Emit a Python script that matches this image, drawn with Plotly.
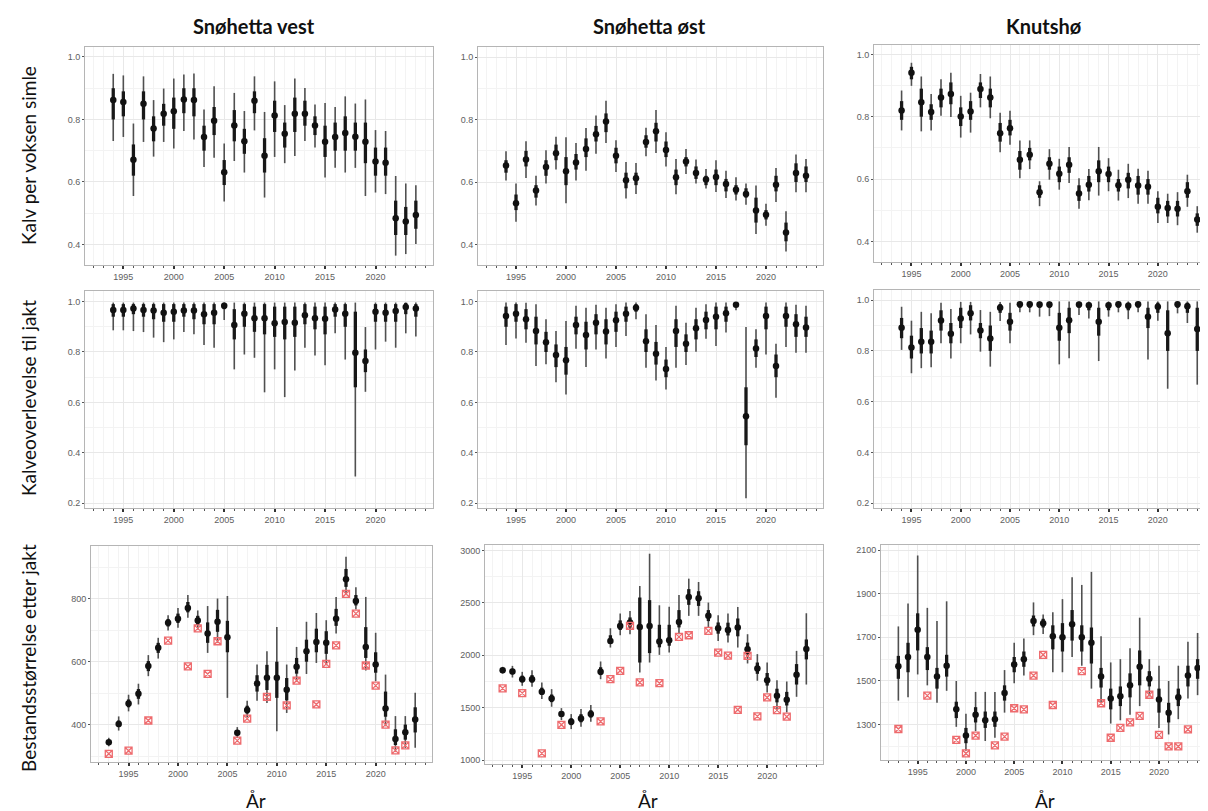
import plotly.graph_objects as go

W, H = 1208, 811

years94 = list(range(1994, 2025))
years93 = list(range(1993, 2025))
x_tick_years = [1995, 2000, 2005, 2010, 2015, 2020]

col_titles = ["Snøhetta vest", "Snøhetta øst", "Knutshø"]
row_titles = ["Kalv per voksen simle", "Kalveoverlevelse til jakt", "Bestandsstørrelse etter jakt"]
x_title = "År"

# ---------------- Row 1: Kalv per voksen simle ----------------
sv_kalv_est = [0.862, 0.856, 0.671, 0.850, 0.771, 0.818, 0.826, 0.864, 0.862, 0.744, 0.796, 0.631, 0.781, 0.730, 0.860, 0.684,
               0.813, 0.754, 0.818, 0.818, 0.781, 0.729, 0.744, 0.757, 0.745, 0.729, 0.665, 0.661, 0.484, 0.473, 0.494]
sv_kalv_lo95 = [0.731, 0.744, 0.555, 0.728, 0.681, 0.728, 0.707, 0.763, 0.736, 0.648, 0.677, 0.537, 0.667, 0.630, 0.765, 0.550,
                0.680, 0.660, 0.683, 0.731, 0.710, 0.614, 0.645, 0.630, 0.645, 0.555, 0.566, 0.561, 0.364, 0.369, 0.401]
sv_kalv_hi95 = [0.946, 0.941, 0.787, 0.938, 0.862, 0.899, 0.931, 0.944, 0.947, 0.832, 0.906, 0.723, 0.885, 0.827, 0.938, 0.824,
                0.922, 0.846, 0.931, 0.901, 0.848, 0.853, 0.840, 0.874, 0.851, 0.864, 0.766, 0.763, 0.619, 0.595, 0.589]
sv_kalv_lo66 = [0.80, 0.81, 0.62, 0.80, 0.73, 0.78, 0.77, 0.82, 0.81, 0.70, 0.75, 0.59, 0.73, 0.69, 0.82, 0.63,
                0.76, 0.71, 0.76, 0.78, 0.75, 0.68, 0.70, 0.70, 0.70, 0.66, 0.62, 0.62, 0.43, 0.43, 0.45]
sv_kalv_hi66 = [0.90, 0.89, 0.72, 0.89, 0.81, 0.85, 0.87, 0.90, 0.90, 0.78, 0.84, 0.67, 0.83, 0.77, 0.89, 0.74,
                0.86, 0.79, 0.87, 0.86, 0.81, 0.78, 0.79, 0.81, 0.79, 0.79, 0.71, 0.71, 0.54, 0.52, 0.54]

so_kalv_est = [0.653, 0.532, 0.672, 0.573, 0.648, 0.692, 0.635, 0.663, 0.706, 0.753, 0.794, 0.684, 0.606, 0.612, 0.728, 0.763,
               0.703, 0.615, 0.666, 0.629, 0.608, 0.616, 0.594, 0.575, 0.562, 0.509, 0.495, 0.591, 0.438, 0.629, 0.620]
so_kalv_lo95 = [0.605, 0.473, 0.613, 0.525, 0.595, 0.640, 0.532, 0.605, 0.636, 0.691, 0.725, 0.632, 0.547, 0.562, 0.683, 0.693,
                0.650, 0.561, 0.626, 0.595, 0.579, 0.568, 0.549, 0.541, 0.527, 0.433, 0.460, 0.536, 0.377, 0.567, 0.567]
so_kalv_hi95 = [0.699, 0.595, 0.731, 0.620, 0.702, 0.745, 0.744, 0.725, 0.773, 0.813, 0.861, 0.734, 0.664, 0.661, 0.774, 0.831,
                0.760, 0.674, 0.706, 0.672, 0.642, 0.670, 0.636, 0.615, 0.595, 0.589, 0.530, 0.645, 0.506, 0.688, 0.674]
so_kalv_lo66 = [0.63, 0.51, 0.65, 0.55, 0.62, 0.67, 0.59, 0.64, 0.68, 0.73, 0.76, 0.66, 0.58, 0.59, 0.71, 0.73,
                0.68, 0.59, 0.65, 0.61, 0.59, 0.59, 0.57, 0.56, 0.55, 0.47, 0.48, 0.57, 0.41, 0.60, 0.60]
so_kalv_hi66 = [0.67, 0.56, 0.70, 0.59, 0.67, 0.72, 0.68, 0.69, 0.74, 0.78, 0.82, 0.71, 0.63, 0.63, 0.75, 0.79,
                0.73, 0.64, 0.68, 0.65, 0.62, 0.64, 0.61, 0.59, 0.58, 0.55, 0.51, 0.62, 0.47, 0.66, 0.65]

kn_kalv_est = [0.820, 0.941, 0.846, 0.815, 0.862, 0.873, 0.801, 0.817, 0.889, 0.862, 0.747, 0.763, 0.662, 0.678, 0.558, 0.649,
               0.617, 0.646, 0.554, 0.582, 0.625, 0.616, 0.580, 0.598, 0.579, 0.575, 0.511, 0.507, 0.505, 0.561, 0.470]
kn_kalv_lo95 = [0.756, 0.899, 0.753, 0.756, 0.803, 0.799, 0.733, 0.749, 0.830, 0.795, 0.686, 0.710, 0.603, 0.632, 0.513, 0.598,
                0.566, 0.587, 0.505, 0.532, 0.547, 0.561, 0.531, 0.539, 0.521, 0.521, 0.459, 0.459, 0.452, 0.511, 0.428]
kn_kalv_hi95 = [0.884, 0.973, 0.929, 0.873, 0.920, 0.941, 0.867, 0.877, 0.937, 0.929, 0.813, 0.819, 0.724, 0.724, 0.593, 0.696,
                0.665, 0.703, 0.603, 0.632, 0.703, 0.667, 0.630, 0.649, 0.633, 0.627, 0.561, 0.553, 0.558, 0.614, 0.513]
kn_kalv_lo66 = [0.79, 0.92, 0.80, 0.79, 0.83, 0.84, 0.77, 0.79, 0.86, 0.83, 0.72, 0.74, 0.63, 0.66, 0.54, 0.63,
                0.59, 0.62, 0.53, 0.56, 0.59, 0.59, 0.56, 0.57, 0.55, 0.55, 0.49, 0.48, 0.48, 0.54, 0.45]
kn_kalv_hi66 = [0.85, 0.96, 0.89, 0.84, 0.89, 0.91, 0.83, 0.85, 0.91, 0.89, 0.78, 0.79, 0.69, 0.70, 0.58, 0.67,
                0.64, 0.67, 0.58, 0.61, 0.66, 0.64, 0.60, 0.62, 0.61, 0.60, 0.54, 0.53, 0.53, 0.59, 0.49]

# ---------------- Row 2: Kalveoverlevelse til jakt ----------------
sv_surv_est = [0.967, 0.967, 0.973, 0.967, 0.965, 0.956, 0.960, 0.965, 0.965, 0.950, 0.956, 0.983, 0.907, 0.952, 0.934, 0.934,
               0.914, 0.919, 0.916, 0.946, 0.934, 0.932, 0.969, 0.952, 0.797, 0.764, 0.960, 0.956, 0.963, 0.979, 0.973]
sv_surv_lo95 = [0.886, 0.886, 0.883, 0.879, 0.857, 0.839, 0.850, 0.879, 0.870, 0.828, 0.817, 0.927, 0.731, 0.790, 0.777, 0.640,
                0.731, 0.621, 0.727, 0.817, 0.786, 0.747, 0.874, 0.770, 0.306, 0.642, 0.810, 0.841, 0.817, 0.874, 0.861]
sv_surv_hi95 = [0.996, 0.996, 0.996, 0.996, 0.996, 0.996, 0.996, 0.996, 0.996, 0.996, 0.996, 0.996, 0.996, 0.996, 0.996, 0.996,
                0.996, 0.996, 0.996, 0.996, 0.996, 0.996, 0.996, 0.996, 0.996, 0.899, 0.996, 0.996, 0.996, 0.996, 0.996]
sv_surv_lo66 = [0.94, 0.94, 0.95, 0.94, 0.93, 0.92, 0.92, 0.94, 0.93, 0.91, 0.91, 0.97, 0.85, 0.90, 0.88, 0.87,
                0.86, 0.85, 0.86, 0.91, 0.89, 0.87, 0.94, 0.90, 0.66, 0.72, 0.92, 0.92, 0.92, 0.95, 0.94]
sv_surv_hi66 = [0.99, 0.99, 0.99, 0.99, 0.99, 0.99, 0.99, 0.99, 0.99, 0.99, 0.99, 0.995, 0.97, 0.99, 0.98, 0.99,
                0.98, 0.98, 0.98, 0.99, 0.98, 0.98, 0.99, 0.99, 0.96, 0.81, 0.99, 0.99, 0.99, 0.995, 0.99]

so_surv_est = [0.943, 0.952, 0.930, 0.883, 0.839, 0.788, 0.767, 0.907, 0.867, 0.916, 0.881, 0.926, 0.952, 0.976, 0.843, 0.793,
               0.733, 0.883, 0.833, 0.894, 0.927, 0.940, 0.954, 0.987, 0.545, 0.814, 0.943, 0.744, 0.943, 0.910, 0.897]
so_surv_lo95 = [0.828, 0.854, 0.837, 0.744, 0.751, 0.680, 0.631, 0.813, 0.740, 0.810, 0.774, 0.820, 0.863, 0.930, 0.737, 0.687,
                0.651, 0.737, 0.748, 0.801, 0.853, 0.824, 0.877, 0.966, 0.220, 0.737, 0.790, 0.618, 0.820, 0.797, 0.797]
so_surv_hi95 = [0.996, 0.996, 0.995, 0.989, 0.930, 0.883, 0.923, 0.983, 0.976, 0.987, 0.976, 0.989, 0.996, 0.996, 0.950, 0.907,
                0.820, 0.983, 0.916, 0.976, 0.989, 0.996, 0.996, 0.996, 0.899, 0.890, 0.996, 0.833, 0.996, 0.987, 0.983]
so_surv_lo66 = [0.90, 0.92, 0.89, 0.83, 0.80, 0.74, 0.71, 0.87, 0.81, 0.87, 0.83, 0.88, 0.92, 0.96, 0.80, 0.75,
                0.70, 0.82, 0.80, 0.85, 0.89, 0.89, 0.92, 0.98, 0.43, 0.78, 0.89, 0.70, 0.90, 0.86, 0.86]
so_surv_hi66 = [0.98, 0.99, 0.97, 0.94, 0.88, 0.83, 0.82, 0.94, 0.92, 0.95, 0.93, 0.96, 0.98, 0.99, 0.89, 0.84,
                0.77, 0.93, 0.87, 0.93, 0.96, 0.98, 0.98, 0.993, 0.66, 0.85, 0.98, 0.79, 0.98, 0.95, 0.94]

kn_surv_est = [0.891, 0.813, 0.836, 0.836, 0.920, 0.868, 0.928, 0.948, 0.880, 0.849, 0.970, 0.915, 0.984, 0.984, 0.983, 0.983,
               0.891, 0.921, 0.983, 0.980, 0.915, 0.980, 0.984, 0.978, 0.984, 0.935, 0.974, 0.870, 0.984, 0.976, 0.886]
kn_surv_lo95 = [0.804, 0.712, 0.732, 0.736, 0.830, 0.770, 0.830, 0.865, 0.797, 0.738, 0.918, 0.830, 0.952, 0.952, 0.935, 0.937,
                0.747, 0.771, 0.941, 0.928, 0.760, 0.935, 0.952, 0.925, 0.952, 0.766, 0.919, 0.651, 0.948, 0.910, 0.667]
kn_surv_hi95 = [0.974, 0.919, 0.954, 0.948, 0.990, 0.965, 0.993, 0.993, 0.961, 0.954, 0.993, 0.990, 0.995, 0.995, 0.995, 0.995,
                0.995, 0.995, 0.995, 0.995, 0.995, 0.995, 0.995, 0.995, 0.995, 0.995, 0.995, 0.995, 0.995, 0.995, 0.995]
kn_surv_lo66 = [0.85, 0.77, 0.79, 0.79, 0.88, 0.83, 0.89, 0.92, 0.85, 0.80, 0.95, 0.88, 0.97, 0.97, 0.97, 0.97,
                0.84, 0.87, 0.97, 0.96, 0.86, 0.96, 0.97, 0.96, 0.97, 0.89, 0.95, 0.80, 0.97, 0.95, 0.80]
kn_surv_hi66 = [0.93, 0.86, 0.89, 0.88, 0.96, 0.91, 0.97, 0.98, 0.91, 0.90, 0.985, 0.95, 0.992, 0.992, 0.992, 0.992,
                0.95, 0.97, 0.992, 0.99, 0.97, 0.99, 0.992, 0.99, 0.992, 0.97, 0.99, 0.96, 0.992, 0.99, 0.97]

# ---------------- Row 3: Bestandsstørrelse etter jakt ----------------
sv_pop_est = [344, 402, 467, 498, 586, 644, 724, 737, 771, 731, 690, 727, 678, 374, 446, 531,
              549, 549, 511, 584, 633, 663, 660, 737, 862, 793, 647, 591, 451, 354, 376, 416]
sv_pop_lo95 = [331, 381, 442, 464, 554, 610, 699, 708, 740, 702, 628, 660, 485, 358, 423, 476,
               469, 379, 437, 538, 561, 596, 589, 690, 814, 766, 572, 538, 395, 315, 326, 326]
sv_pop_hi95 = [358, 426, 495, 530, 621, 676, 748, 771, 812, 763, 777, 801, 809, 392, 476, 591,
               633, 710, 591, 647, 727, 755, 732, 806, 934, 837, 806, 692, 559, 427, 427, 501]
sv_pop_lo66 = [338, 392, 455, 482, 570, 628, 712, 723, 757, 717, 660, 695, 630, 366, 435, 505,
               510, 485, 477, 562, 600, 630, 625, 714, 838, 779, 612, 565, 425, 335, 352, 375]
sv_pop_hi66 = [350, 413, 480, 513, 602, 660, 736, 753, 790, 746, 725, 765, 730, 382, 460, 557,
               590, 600, 548, 612, 670, 705, 697, 768, 895, 812, 710, 630, 505, 385, 400, 455]
sv_pop_obs = [307, None, 317, None, 413, None, 667, None, 585, 706, 561, 665, None, 349, 419, None,
              488, None, 461, 540, None, 464, 593, 652, 816, 753, 588, 524, 400, 318, 334, None]

so_pop_est = [1857, 1844, 1771, 1771, 1651, 1587, 1438, 1365, 1397, 1438, 1841, 2136, 2279, 2311, 2270, 2279,
              2130, 2143, 2317, 2556, 2543, 2375, 2257, 2241, 2263, 2057, 1873, 1762, 1613, 1575, 1813, 2060]
so_pop_lo95 = [1825, 1787, 1708, 1698, 1581, 1508, 1381, 1295, 1317, 1365, 1771, 2073, 2190, 2200, 1835, 1930,
               2003, 2025, 2200, 2375, 2375, 2263, 2136, 2121, 2073, 1921, 1756, 1644, 1470, 1454, 1603, 1720]
so_pop_hi95 = [1889, 1898, 1841, 1857, 1740, 1676, 1495, 1438, 1486, 1524, 1940, 2257, 2397, 2422, 2660, 2968,
               2476, 2463, 2575, 2730, 2698, 2502, 2381, 2397, 2460, 2200, 2010, 1930, 1762, 1749, 2041, 2400]
so_pop_lo66 = [1842, 1818, 1740, 1738, 1620, 1552, 1412, 1333, 1360, 1405, 1810, 2108, 2240, 2260, 1930, 2020,
               2075, 2090, 2265, 2480, 2470, 2325, 2205, 2188, 2180, 1996, 1822, 1710, 1550, 1520, 1720, 1960]
so_pop_hi66 = [1872, 1870, 1805, 1810, 1690, 1625, 1465, 1398, 1437, 1475, 1885, 2190, 2332, 2360, 2550, 2525,
               2290, 2290, 2430, 2630, 2610, 2430, 2312, 2310, 2350, 2120, 1930, 1830, 1680, 1650, 1915, 2150]
so_pop_obs = [1683, None, 1638, None, 1063, None, 1336, None, None, None, 1368, 1771, 1851, 2279, 1740, None,
              1733, None, 2175, 2190, None, 2232, 2025, 1995, 1479, 1994, 1416, 1597, 1476, 1413, None, None]

kn_pop_est = [1568, 1610, 1735, 1610, 1520, 1570, 1370, 1250, 1345, 1320, 1325, 1445, 1575, 1600, 1775, 1765,
              1705, 1700, 1760, 1700, 1675, 1520, 1420, 1430, 1480, 1565, 1510, 1415, 1355, 1425, 1525, 1560]
kn_pop_lo95 = [1410, 1425, 1530, 1480, 1400, 1455, 1290, 1180, 1270, 1225, 1240, 1355, 1490, 1525, 1710, 1715,
               1540, 1540, 1610, 1570, 1465, 1400, 1305, 1320, 1345, 1385, 1430, 1285, 1255, 1325, 1420, 1435]
kn_pop_hi95 = [1750, 1855, 2075, 1835, 1775, 1865, 1500, 1350, 1450, 1450, 1450, 1550, 1675, 1695, 1860, 1805,
               1815, 1875, 1975, 1940, 2000, 1705, 1585, 1600, 1650, 1790, 1600, 1570, 1500, 1570, 1680, 1720]
kn_pop_lo66 = [1510, 1540, 1640, 1550, 1465, 1520, 1330, 1215, 1310, 1285, 1290, 1410, 1540, 1565, 1750, 1745,
               1645, 1635, 1685, 1635, 1580, 1470, 1370, 1385, 1425, 1480, 1475, 1355, 1310, 1385, 1475, 1510]
kn_pop_hi66 = [1615, 1675, 1810, 1655, 1560, 1620, 1405, 1285, 1380, 1360, 1360, 1480, 1610, 1635, 1800, 1785,
               1755, 1765, 1825, 1755, 1745, 1560, 1465, 1475, 1535, 1640, 1545, 1465, 1400, 1465, 1570, 1600]
kn_pop_obs = [1280, None, None, 1433, None, None, 1230, 1168, 1250, None, 1205, 1245, 1375, 1370, 1525, 1620,
              1390, None, None, 1545, None, 1398, 1240, 1285, 1310, 1340, 1437, 1253, 1200, 1200, 1278, None]

# ---------------- Figure construction ----------------
XRANGE = [1991.2, 2025.7]

# panel pixel boxes: (left, right, top, bottom)
panels = [
    dict(box=(77, 425, 39, 257), years=years94, est=sv_kalv_est, lo95=sv_kalv_lo95, hi95=sv_kalv_hi95, lo66=sv_kalv_lo66, hi66=sv_kalv_hi66, obs=None, yrange=[0.334, 1.032], tick0=0.4, dtick=0.2, minor=0.1, fmt=".1f"),
    dict(box=(470, 815, 39, 257), years=years94, est=so_kalv_est, lo95=so_kalv_lo95, hi95=so_kalv_hi95, lo66=so_kalv_lo66, hi66=so_kalv_hi66, obs=None, yrange=[0.334, 1.033], tick0=0.4, dtick=0.2, minor=0.1, fmt=".1f"),
    dict(box=(866, 1206, 37, 254), years=years94, est=kn_kalv_est, lo95=kn_kalv_lo95, hi95=kn_kalv_hi95, lo66=kn_kalv_lo66, hi66=kn_kalv_hi66, obs=None, yrange=[0.334, 1.030], tick0=0.4, dtick=0.2, minor=0.1, fmt=".1f"),
    dict(box=(77, 425, 283, 500), years=years94, est=sv_surv_est, lo95=sv_surv_lo95, hi95=sv_surv_hi95, lo66=sv_surv_lo66, hi66=sv_surv_hi66, obs=None, yrange=[0.181, 1.042], tick0=0.2, dtick=0.2, minor=0.1, fmt=".1f"),
    dict(box=(470, 815, 283, 500), years=years94, est=so_surv_est, lo95=so_surv_lo95, hi95=so_surv_hi95, lo66=so_surv_lo66, hi66=so_surv_hi66, obs=None, yrange=[0.181, 1.042], tick0=0.2, dtick=0.2, minor=0.1, fmt=".1f"),
    dict(box=(866, 1206, 282, 500), years=years94, est=kn_surv_est, lo95=kn_surv_lo95, hi95=kn_surv_hi95, lo66=kn_surv_lo66, hi66=kn_surv_hi66, obs=None, yrange=[0.181, 1.040], tick0=0.2, dtick=0.2, minor=0.1, fmt=".1f"),
    dict(box=(83, 424, 538, 754), years=years93, est=sv_pop_est, lo95=sv_pop_lo95, hi95=sv_pop_hi95, lo66=sv_pop_lo66, hi66=sv_pop_hi66, obs=sv_pop_obs, yrange=[281, 968], tick0=400, dtick=200, minor=100, fmt="d"),
    dict(box=(477, 815, 537, 756), years=years93, est=so_pop_est, lo95=so_pop_lo95, hi95=so_pop_hi95, lo66=so_pop_lo66, hi66=so_pop_hi66, obs=so_pop_obs, yrange=[962, 3051], tick0=1000, dtick=500, minor=250, fmt="d"),
    dict(box=(873, 1206, 537, 752), years=years93, est=kn_pop_est, lo95=kn_pop_lo95, hi95=kn_pop_hi95, lo66=kn_pop_lo66, hi66=kn_pop_hi66, obs=kn_pop_obs, yrange=[1138, 2123], tick0=1300, dtick=200, minor=100, fmt="d"),
]

TICKFONT = dict(family="Liberation Sans, Arial, sans-serif", size=9, color="#606060")
GRID = "#e8e8e8"
MINORGRID = "#f3f3f3"

fig = go.Figure()
layout = dict(width=W, height=H, margin=dict(l=0, r=0, t=0, b=0),
              plot_bgcolor="white", paper_bgcolor="white", showlegend=False)

for i, p in enumerate(panels):
    k = i + 1
    xa = "xaxis" if k == 1 else f"xaxis{k}"
    ya = "yaxis" if k == 1 else f"yaxis{k}"
    xr = "x" if k == 1 else f"x{k}"
    yr = "y" if k == 1 else f"y{k}"
    l, r, t, b = p["box"]
    layout[xa] = dict(domain=[l / W, r / W], anchor=yr, range=XRANGE,
                      tickmode="array", tickvals=x_tick_years,
                      ticks="outside", ticklen=3, tickwidth=2, tickcolor="#333333",
                      tickfont=TICKFONT, showgrid=True, gridcolor=GRID, gridwidth=1,
                      minor=dict(tickmode="linear", tick0=1990, dtick=1, ticks="outside", ticklen=2, tickwidth=1,
                                 tickcolor="#555555", showgrid=True, gridcolor=MINORGRID, gridwidth=1),
                      showline=True, mirror=True, linecolor="#b5b5b5", linewidth=1, zeroline=False)
    layout[ya] = dict(domain=[1 - b / H, 1 - t / H], anchor=xr, range=p["yrange"],
                      tick0=p["tick0"], dtick=p["dtick"], tickformat=p["fmt"],
                      ticks="outside", ticklen=2, tickcolor="#555555", tickfont=TICKFONT,
                      showgrid=True, gridcolor=GRID, gridwidth=1,
                      minor=dict(dtick=p["minor"], showgrid=True, gridcolor=MINORGRID, gridwidth=1),
                      showline=True, mirror=True, linecolor="#b5b5b5", linewidth=1, zeroline=False)

    est = p["est"]
    up95 = [h - e for h, e in zip(p["hi95"], est)]
    dn95 = [e - lo for e, lo in zip(est, p["lo95"])]
    up66 = [h - e for h, e in zip(p["hi66"], est)]
    dn66 = [e - lo for e, lo in zip(est, p["lo66"])]

    fig.add_trace(go.Scatter(x=p["years"], y=est, mode="markers", xaxis=xr, yaxis=yr,
                             marker=dict(size=1, color="rgba(0,0,0,0)"),
                             error_y=dict(type="data", symmetric=False, array=up95, arrayminus=dn95,
                                          width=0, thickness=1.6, color="#505050"),
                             hoverinfo="skip"))
    fig.add_trace(go.Scatter(x=p["years"], y=est, mode="markers", xaxis=xr, yaxis=yr,
                             marker=dict(size=1, color="rgba(0,0,0,0)"),
                             error_y=dict(type="data", symmetric=False, array=up66, arrayminus=dn66,
                                          width=0, thickness=3.3, color="#181818"),
                             hoverinfo="skip"))
    fig.add_trace(go.Scatter(x=p["years"], y=est, mode="markers", xaxis=xr, yaxis=yr,
                             marker=dict(size=6.5, color="#111111", line=dict(width=0))))
    if p["obs"] is not None:
        fig.add_trace(go.Scatter(x=p["years"], y=p["obs"], mode="markers", xaxis=xr, yaxis=yr,
                                 marker=dict(symbol="square-x-open", size=7, color="#ee6b6e",
                                             line=dict(width=1.3, color="#ee6b6e"))))

fig.update_layout(**layout)

annotations = []
title_font = dict(family="Lato, Open Sans, sans-serif", size=20, color="#111111")
for txt, cx in zip(col_titles, [246, 641, 1036]):
    annotations.append(dict(text=f"<b>{txt}</b>", x=cx / W, y=1 - 18 / H, xref="paper", yref="paper",
                            showarrow=False, xanchor="center", yanchor="middle", font=title_font))
row_font = dict(family="Lato, Open Sans, sans-serif", size=19, color="#111111")
for txt, cy in zip(row_titles, [148, 390, 650]):
    annotations.append(dict(text=txt, x=20 / W, y=1 - cy / H, xref="paper", yref="paper", textangle=-90,
                            showarrow=False, xanchor="center", yanchor="middle", font=row_font))
for cx in [248, 640, 1037]:
    annotations.append(dict(text=x_title, x=cx / W, y=1 - 792 / H, xref="paper", yref="paper",
                            showarrow=False, xanchor="center", yanchor="middle",
                            font=dict(family="Lato, Open Sans, sans-serif", size=19, color="#111111")))
fig.update_layout(annotations=annotations)

fig.write_html("out.html")
